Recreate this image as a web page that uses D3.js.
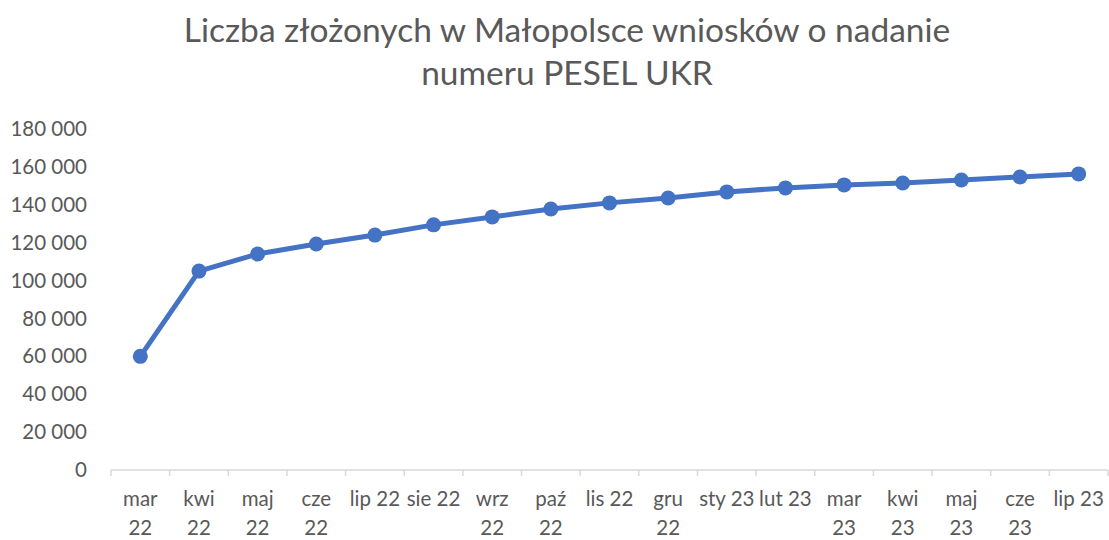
<!DOCTYPE html>
<html>
<head>
<meta charset="utf-8">
<script src="https://cdn.jsdelivr.net/npm/d3@7"></script>
<style>
  body { margin: 0; background: #fff; }
  text { font-family: Lato, "Open Sans", sans-serif; fill: #595959; }
</style>
</head>
<body>
<div id="chart"></div>
<script>
const titleLines = ["Liczba złożonych w Małopolsce wniosków o nadanie", "numeru PESEL UKR"];
const months = ["mar\n22", "kwi\n22", "maj\n22", "cze\n22", "lip 22", "sie 22", "wrz\n22", "paź\n22", "lis 22",
                "gru\n22", "sty 23", "lut 23", "mar\n23", "kwi\n23", "maj\n23", "cze\n23", "lip 23"];
const applications = [60000, 105000, 114000, 119300, 124000, 129400, 133600, 137800, 141000,
                      143600, 146800, 148900, 150500, 151500, 153100, 154700, 156300];
const yTicks = [0, 20000, 40000, 60000, 80000, 100000, 120000, 140000, 160000, 180000];

const width = 1109, height = 540;
const margin = { top: 129, right: 1, bottom: 70, left: 111 };

const svg = d3.select("#chart").append("svg")
    .attr("width", width)
    .attr("height", height);

// Title
svg.append("g").selectAll("text")
    .data(titleLines)
    .join("text")
    .attr("x", 567)
    .attr("y", (d, i) => 42 + i * 43)
    .attr("text-anchor", "middle")
    .style("font-size", "33.5px")
    .text(d => d);

const x = d3.scaleBand()
    .domain(d3.range(months.length))
    .range([margin.left, width - margin.right]);

const y = d3.scaleLinear()
    .domain([0, 180000])
    .range([height - margin.bottom, margin.top]);

const fmt = v => d3.format(",")(v).replace(/,/g, " ");

// Y axis labels (no line, no gridlines)
const yAxis = svg.append("g")
    .attr("transform", `translate(${margin.left}, 0)`)
    .call(d3.axisLeft(y).tickValues(yTicks).tickFormat(fmt).tickSize(0).tickPadding(24));
yAxis.select(".domain").remove();
yAxis.selectAll("text").style("font-size", "20.5px").attr("fill", "#595959");

// X axis
const x0 = height - margin.bottom;
const xg = svg.append("g");
xg.append("line")
    .attr("x1", margin.left).attr("x2", width - margin.right)
    .attr("y1", x0).attr("y2", x0)
    .attr("stroke", "#d9d9d9").attr("stroke-width", 1.5);
xg.selectAll("line.tick")
    .data(d3.range(months.length + 1))
    .join("line")
    .attr("class", "tick")
    .attr("x1", i => margin.left + i * x.step())
    .attr("x2", i => margin.left + i * x.step())
    .attr("y1", x0).attr("y2", x0 + 6)
    .attr("stroke", "#d9d9d9").attr("stroke-width", 1.5);

const labels = xg.selectAll("text.lbl")
    .data(months)
    .join("text")
    .attr("class", "lbl")
    .attr("text-anchor", "middle")
    .style("font-size", "20.5px");
labels.each(function(d, i) {
    const t = d3.select(this);
    d.split("\n").forEach((line, k) => {
        t.append("tspan")
            .attr("x", x(i) + x.bandwidth() / 2)
            .attr("y", x0 + 36 + k * 29)
            .text(line);
    });
});

// Line + markers
const line = d3.line()
    .x((d, i) => x(i) + x.bandwidth() / 2)
    .y(d => y(d));

svg.append("path")
    .datum(applications)
    .attr("d", line)
    .attr("fill", "none")
    .attr("stroke", "#4472C4")
    .attr("stroke-width", 5)
    .attr("stroke-linejoin", "round");

svg.append("g").selectAll("circle")
    .data(applications)
    .join("circle")
    .attr("cx", (d, i) => x(i) + x.bandwidth() / 2)
    .attr("cy", d => y(d))
    .attr("r", 7.5)
    .attr("fill", "#4472C4");
</script>
</body>
</html>
